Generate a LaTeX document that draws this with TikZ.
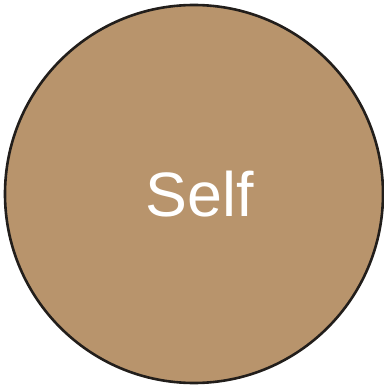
\documentclass[tikz,border=0pt]{standalone}
\usepackage{fontspec}
\setmainfont{Liberation Sans}
\definecolor{slfTan}{HTML}{B8946C}
\definecolor{slfRim}{HTML}{221E1B}
\tikzset{
  slf disc/.style={circle, draw=slfRim, fill=slfTan, line width=2.6bp, minimum size=378bp, inner sep=0pt},
  slf label/.style={font=\fontsize{63}{70}\selectfont, text=white},
}
\begin{document}
\begin{tikzpicture}[x=1bp,y=1bp]
\useasboundingbox(0,0)rectangle(384,387);
\node[slf disc](self)at(194,193){};
\node[slf label,anchor=base](selftext)at(200,171){Self};
\end{tikzpicture}
\end{document}
